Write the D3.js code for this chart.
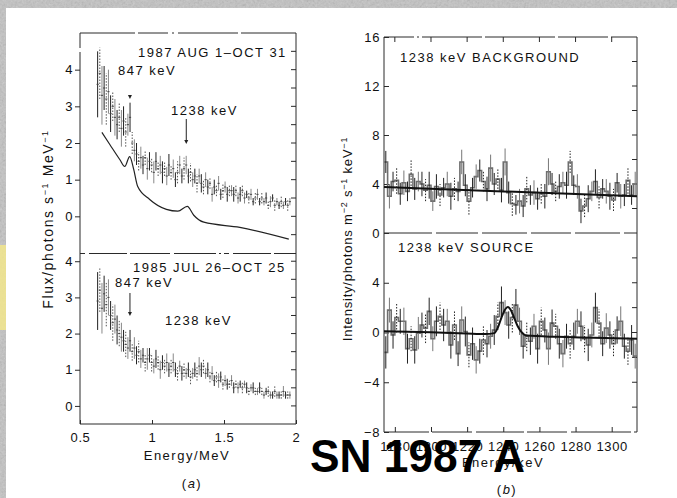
<!DOCTYPE html>
<html>
<head>
<meta charset="utf-8">
<script src="https://cdn.jsdelivr.net/npm/d3@7"></script>
<style>
  html, body { margin: 0; padding: 0; background: #fff; }
  svg { display: block; font-family: "Liberation Sans", Arial, sans-serif; }
  .tick text { font-size: 13px; letter-spacing: 0.6px; fill: #111; }
  .note { font-size: 13px; letter-spacing: 1.5px; fill: #111; }
</style>
</head>
<body>
<script>
// ---- data (a): flux spectra, 0.015 MeV bins starting at 0.615 MeV ----
const binStartA = 0.615, binWidthA = 0.015;
const flux1987 = [3.6,3.9,3.3,3.5,3.2,3.4,2.8,3.0,2.7,2.5,2.7,2.4,2.6,2.3,2.5,2.7,2.0,1.8,1.7,1.5,
  1.6,1.4,1.6,1.3,1.5,1.4,1.2,1.5,1.3,1.4,1.2,1.3,1.1,1.4,1.2,1.3,1.0,1.2,1.4,1.1,
  1.3,1.4,1.1,1.2,1.0,1.1,0.9,1.1,0.9,0.8,1.0,0.8,0.9,0.6,0.8,0.7,0.9,0.6,0.7,0.8,
  0.6,0.7,0.7,0.6,0.7,0.5,0.6,0.7,0.5,0.6,0.5,0.6,0.4,0.5,0.6,0.4,0.5,0.4,0.5,0.3,
  0.4,0.5,0.3,0.4,0.3,0.4,0.3,0.4,0.3,0.4];
const err1987 = [0.9,0.7,0.8,0.6,0.7,0.6,0.5,0.4,0.5,0.4,0.4,0.5,0.4,0.4,0.3,0.4,0.3,0.3,0.3,0.25,
  0.3,0.25,0.2,0.3,0.25,0.2,0.3,0.25,0.2,0.25,0.3,0.2,0.25,0.3,0.2,0.25,0.2,0.3,0.25,0.2,
  0.3,0.25,0.2,0.25,0.2,0.2,0.25,0.2,0.25,0.2,0.2,0.2,0.15,0.2,0.2,0.15,0.2,0.15,0.2,0.15,
  0.2,0.15,0.15,0.2,0.15,0.15,0.2,0.15,0.15,0.1,0.15,0.15,0.1,0.15,0.15,0.1,0.15,0.1,0.15,0.1,
  0.15,0.1,0.15,0.1,0.1,0.15,0.1,0.1,0.15,0.1];
const flux1985 = [2.9,3.2,2.7,3.1,2.8,3.0,2.5,2.3,2.4,2.1,2.0,1.9,1.8,1.7,1.6,1.8,1.5,1.6,1.4,1.5,
  1.3,1.4,1.2,1.3,1.4,1.2,1.1,1.3,1.2,1.0,1.2,1.1,1.2,1.0,1.1,1.2,1.0,0.9,1.1,0.9,
  1.0,0.9,1.0,0.8,0.9,1.0,0.9,1.1,1.0,1.1,0.9,1.0,0.8,0.9,0.7,0.8,0.7,0.8,0.6,0.7,
  0.6,0.6,0.7,0.5,0.6,0.5,0.6,0.5,0.6,0.5,0.4,0.5,0.5,0.4,0.4,0.5,0.4,0.3,0.4,0.4,
  0.3,0.3,0.4,0.3,0.3,0.3,0.4,0.3,0.3,0.3];
const err1985 = [0.8,0.6,0.7,0.5,0.6,0.5,0.4,0.5,0.4,0.4,0.35,0.4,0.3,0.35,0.3,0.3,0.25,0.3,0.25,0.3,
  0.25,0.2,0.25,0.3,0.2,0.25,0.2,0.25,0.2,0.25,0.2,0.2,0.25,0.2,0.2,0.25,0.2,0.2,0.15,0.2,
  0.2,0.15,0.2,0.2,0.15,0.2,0.2,0.25,0.2,0.2,0.15,0.2,0.15,0.2,0.15,0.15,0.2,0.15,0.15,0.15,
  0.15,0.1,0.15,0.15,0.1,0.15,0.1,0.15,0.1,0.15,0.1,0.1,0.15,0.1,0.1,0.15,0.1,0.1,0.1,0.15,
  0.1,0.1,0.15,0.1,0.1,0.1,0.15,0.1,0.1,0.1];
// background model curve, panel (a) top: [MeV, flux]
const modelCurve = [[0.652,2.29],[0.707,1.96],[0.776,1.55],[0.811,1.36],[0.845,1.63],[0.873,1.28],
  [0.90,0.82],[0.984,0.46],[1.10,0.19],[1.18,0.14],[1.245,0.27],[1.29,0.03],[1.36,-0.16],
  [1.61,-0.30],[1.95,-0.62]];

// ---- data (b): intensity, 2 keV bins starting at 1174 keV ----
const binStartB = 1174, binWidthB = 2;
const bgValues = [5.8,3.0,4.2,4.3,3.2,4.1,3.4,4.8,3.6,4.2,4.0,3.5,3.9,2.6,3.8,3.1,3.7,4.0,3.0,3.6,
  3.4,5.8,3.9,2.6,3.7,4.6,5.1,4.2,3.6,5.3,4.0,4.4,3.5,5.8,3.3,2.4,2.3,2.6,2.2,3.6,
  3.1,3.3,2.8,3.2,3.0,5.0,4.0,3.4,3.8,4.1,3.9,5.8,3.9,3.8,1.8,2.2,2.8,3.4,4.2,2.9,
  3.6,3.4,3.0,2.7,4.1,3.0,3.1,4.3,3.1,4.0];
const bgErrors = [0.9,1.0,0.8,1.1,0.9,1.0,0.8,1.2,0.9,0.8,1.0,0.9,1.1,0.8,1.0,0.9,0.8,1.0,1.1,0.9,
  0.8,1.0,0.9,1.1,0.8,1.0,0.9,0.8,1.0,1.1,0.9,0.8,1.0,1.1,0.9,1.0,0.8,1.0,0.9,1.1,
  0.8,1.0,0.9,0.8,1.0,1.1,0.9,0.8,1.0,0.9,1.1,0.9,0.8,1.0,1.0,0.9,1.1,0.8,1.0,0.9,
  0.8,1.0,1.1,0.9,0.8,1.0,0.9,1.1,0.8,1.0];
const srcValues = [-1.6,1.8,-0.2,1.2,0.9,0.9,-1.3,-0.5,-1.4,-0.05,0.6,0.35,1.7,-0.5,0.9,1.3,0.6,0.9,-1.0,0.6,
  -1.7,1.0,0.08,-1.8,-0.9,-2.2,-1.5,-0.6,-0.9,-0.3,0.2,1.3,2.4,1.6,0.6,1.2,2.2,0.9,-1.1,-0.3,
  -0.7,0.5,-1.3,0.9,0.2,-1.3,0.75,0.5,-0.9,-1.7,-0.3,-0.9,-0.3,0.9,0.5,-0.5,-1.0,-0.2,2.0,0.75,
  -0.9,0.35,-0.2,-0.9,0.2,0.9,-1.1,-1.5,-0.6,-1.9];
const srcErrors = [1.3,1.0,1.1,1.2,1.0,1.1,1.2,1.0,1.1,1.3,1.0,1.2,1.1,1.0,1.2,1.1,1.3,1.0,1.1,1.2,
  1.0,1.1,1.2,1.0,1.3,1.1,1.0,1.2,1.1,1.0,1.2,1.1,1.3,1.0,1.1,1.2,1.3,1.1,1.0,1.2,
  1.1,1.0,1.2,1.1,1.0,1.3,1.1,1.0,1.2,1.1,1.0,1.2,1.1,1.0,1.2,1.1,1.3,1.0,1.2,1.1,
  1.0,1.2,1.1,1.0,1.1,1.2,1.0,1.1,1.2,1.0];
const bgFit = [[1174,3.75],[1314,3.0]];
const srcFit = [[1174,0.1],[1200,0.02],[1220,-0.08],[1230,-0.12],[1235,-0.05],[1237,0.4],[1239,1.2],
  [1241,1.85],[1242.5,2.05],[1244,1.85],[1246,1.2],[1248,0.5],[1250,0.05],[1253,-0.25],
  [1270,-0.35],[1290,-0.42],[1314,-0.5]];

const ticksA = [0, 1, 2, 3, 4];
const ticksEnergyA = [0.5, 1, 1.5, 2];
const ticksBg = [0, 4, 8, 12, 16];
const ticksSrc = [-8, -4, 0, 4];
const ticksEnergyB = [1180, 1200, 1220, 1240, 1260, 1280, 1300];

const W = 677, H = 498;
const svg = d3.select("body").append("svg").attr("width", W).attr("height", H);

// scanned-paper border
const defs = svg.append("defs");
const f = defs.append("filter").attr("id", "grain").attr("x", 0).attr("y", 0).attr("width", 1).attr("height", 1);
f.append("feTurbulence").attr("type", "fractalNoise").attr("baseFrequency", 0.45).attr("numOctaves", 3).attr("seed", 7);
f.append("feColorMatrix").attr("type", "saturate").attr("values", 0);
svg.append("rect").attr("width", W).attr("height", H).attr("fill", "#c2c2c2");
svg.append("rect").attr("width", W).attr("height", H).attr("filter", "url(#grain)").attr("opacity", 0.4);
svg.append("rect").attr("x", 0).attr("y", 245).attr("width", 9).attr("height", 85).attr("fill", "#f2e68c").attr("opacity", 0.85);
svg.append("rect").attr("x", 6).attr("y", 8).attr("width", W - 6).attr("height", H - 8).attr("fill", "#fff");

// scales
const xA = d3.scaleLinear().domain([0.5, 2]).range([80, 296]);
const yTop = d3.scaleLinear().domain([-1, 5]).range([253, 33]);
const yBot = d3.scaleLinear().domain([-0.5, 4.2]).range([424, 254]);
const xB = d3.scaleLinear().domain([1174, 1314]).range([384, 637]);
const yBg = d3.scaleLinear().domain([0, 16]).range([233, 37]);
const ySrc = d3.scaleLinear().domain([-8, 8]).range([432, 233]);

const ink = "#2a2a2a";

function frameLine(x1, y1, x2, y2, dash) {
    svg.append("line").attr("x1", x1).attr("y1", y1).attr("x2", x2).attr("y2", y2)
        .attr("stroke", ink).attr("stroke-width", 1)
        .attr("stroke-dasharray", dash || null);
}

// ----- panel (a) frames -----
frameLine(80, 33, 296, 33, "55,3,30,4,2,4,60,3");
frameLine(80, 33, 80, 48);
frameLine(80, 52, 80, 424);
frameLine(296, 33, 296, 424);
frameLine(80, 253.5, 296, 253.5, "5,4,38,3,40,4,42,3,2,3");
frameLine(80, 424, 296, 424);

function leftAxis(scale, values) {
    const g = svg.append("g").attr("transform", "translate(80,0)")
        .call(d3.axisLeft(scale).tickValues(values).tickSize(5).tickPadding(2).tickFormat(d3.format("d")));
    g.select(".domain").remove();
    g.selectAll("line").attr("stroke", ink);
}
leftAxis(yTop, ticksA);
leftAxis(yBot, ticksA);

// inside ticks on the right edge of (a)
[[yTop, d3.range(-0.5, 5, 0.5)], [yBot, d3.range(0, 4.2, 0.5)]].forEach(([s, vals]) => {
    svg.append("g").selectAll("line").data(vals).join("line")
        .attr("x1", 291).attr("x2", 296).attr("y1", d => s(d)).attr("y2", d => s(d))
        .attr("stroke", ink);
});

const gxA = svg.append("g").attr("transform", "translate(0,424)")
    .call(d3.axisBottom(xA).tickValues(ticksEnergyA).tickSizeInner(-4).tickSizeOuter(0).tickPadding(9).tickFormat(d3.format("~g")));
gxA.select(".domain").remove();
gxA.selectAll("line").attr("stroke", ink);

// spectra with error bars
function spectrum(values, errs, yScale) {
    const g = svg.append("g");
    values.forEach((v, i) => {
        const e = binStartA + (i + 0.5) * binWidthA;
        const x = xA(e);
        const style = i % 3;
        g.append("line")
            .attr("x1", x).attr("x2", x)
            .attr("y1", yScale(v - errs[i])).attr("y2", yScale(v + errs[i]))
            .attr("stroke", style === 0 ? "#222" : style === 1 ? "#555" : "#888")
            .attr("stroke-width", 1)
            .attr("stroke-dasharray", style === 1 ? "1.5,1.5" : null);
        g.append("line")
            .attr("x1", xA(e - binWidthA / 2)).attr("x2", xA(e + binWidthA / 2))
            .attr("y1", yScale(v)).attr("y2", yScale(v))
            .attr("stroke", "#444").attr("stroke-width", 1);
    });
}
spectrum(flux1987, err1987, yTop);
spectrum(flux1985, err1985, yBot);

svg.append("path").datum(modelCurve)
    .attr("d", d3.line().x(d => xA(d[0])).y(d => yTop(d[1])).curve(d3.curveMonotoneX))
    .attr("fill", "none").attr("stroke", "#222").attr("stroke-width", 1.2);

// annotations (a)
svg.append("text").attr("class", "note").attr("x", 138).attr("y", 57).text("1987 AUG 1\u2013OCT 31");
svg.append("text").attr("class", "note").attr("x", 118).attr("y", 75).text("847 keV");
svg.append("path").attr("d", `M${xA(0.847) - 2},95 L${xA(0.847) + 2},95 L${xA(0.847)},99 Z`).attr("fill", "#222");
svg.append("text").attr("class", "note").attr("x", 171).attr("y", 115).text("1238 keV");
function arrow(x, y1, y2) {
    svg.append("line").attr("x1", x).attr("x2", x).attr("y1", y1).attr("y2", y2 - 3).attr("stroke", "#222");
    svg.append("path").attr("d", `M${x - 2},${y2 - 4} L${x + 2},${y2 - 4} L${x},${y2} Z`).attr("fill", "#222");
}
arrow(xA(1.238), 119, 144);
svg.append("text").attr("class", "note").attr("x", 133).attr("y", 272).text("1985 JUL 26\u2013OCT 25");
svg.append("text").attr("class", "note").attr("x", 115).attr("y", 287).text("847 keV");
arrow(xA(0.847), 293, 316);
svg.append("text").attr("class", "note").attr("x", 165).attr("y", 325).text("1238 keV");

const yLabA = svg.append("text").attr("class", "note")
    .attr("transform", "translate(53,219) rotate(-90)").attr("text-anchor", "middle")
    .style("font-size", "14px").style("letter-spacing", "1.6px");
yLabA.append("tspan").text("Flux/photons s");
yLabA.append("tspan").attr("dy", -5).style("font-size", "9px").text("\u22121");
yLabA.append("tspan").attr("dy", 5).text(" MeV");
yLabA.append("tspan").attr("dy", -5).style("font-size", "9px").text("\u22121");

svg.append("text").attr("class", "note").attr("x", 187).attr("y", 460).attr("text-anchor", "middle").text("Energy/MeV");
svg.append("text").attr("class", "note").attr("x", 192).attr("y", 488).attr("text-anchor", "middle")
    .html("(<tspan font-style='italic'>a</tspan>)");

// ----- panel (b) frames -----
frameLine(384, 37, 637, 37, "30,3,2,3,60,3,70,3,50,3");
frameLine(384, 37, 384, 432);
frameLine(637, 37, 637, 432);
frameLine(384, 233, 637, 233, "48,4,42,4,45,4,40,4,45,4");
frameLine(384, 432, 637, 432, "45,3,40,4,48,3,40,4,60,3");

[[yBg, ticksBg], [ySrc, ticksSrc]].forEach(([s, vals]) => {
    const g = svg.append("g").attr("transform", "translate(384,0)")
        .call(d3.axisLeft(s).tickValues(vals).tickSizeInner(-5).tickSizeOuter(0).tickPadding(4)
            .tickFormat(d => d < 0 ? "\u2212" + Math.abs(d) : d));
    g.select(".domain").remove();
    g.selectAll("line").attr("stroke", ink);
});
[[yBg, d3.range(2, 16, 2)], [ySrc, d3.range(-6, 8, 2)]].forEach(([s, vals]) => {
    svg.append("g").selectAll("line").data(vals).join("line")
        .attr("x1", 632).attr("x2", 637).attr("y1", d => s(d)).attr("y2", d => s(d))
        .attr("stroke", ink);
});
svg.append("g").selectAll("line").data(ticksEnergyB).join("line")
    .attr("x1", d => xB(d)).attr("x2", d => xB(d)).attr("y1", 37).attr("y2", 42).attr("stroke", ink);

const gxB = svg.append("g").attr("transform", "translate(0,432)")
    .call(d3.axisBottom(xB).tickValues(ticksEnergyB).tickSizeInner(-5).tickSizeOuter(0).tickPadding(10).tickFormat(d3.format("d")));
gxB.select(".domain").remove();
gxB.selectAll("line").attr("stroke", ink);

function histogram(values, errs, yScale) {
    const pts = [];
    values.forEach((v, i) => {
        const lo = binStartB + i * binWidthB;
        pts.push([lo, v], [lo + binWidthB, v]);
    });
    svg.append("path").datum(pts)
        .attr("d", d3.line().x(d => xB(d[0])).y(d => yScale(d[1])))
        .attr("fill", "none").attr("stroke", "#6e6e6e").attr("stroke-width", 1.6);
    svg.append("g").selectAll("line").data(values).join("line")
        .attr("x1", (d, i) => xB(binStartB + (i + 0.5) * binWidthB))
        .attr("x2", (d, i) => xB(binStartB + (i + 0.5) * binWidthB))
        .attr("y1", (d, i) => yScale(d - errs[i]))
        .attr("y2", (d, i) => yScale(d + errs[i]))
        .attr("stroke", (d, i) => i % 4 === 1 ? "#777" : "#222")
        .attr("stroke-dasharray", (d, i) => i % 4 === 3 ? "1.5,1.5" : null)
        .attr("stroke-width", 1);
}
histogram(bgValues, bgErrors, yBg);
histogram(srcValues, srcErrors, ySrc);

svg.append("path").datum(bgFit)
    .attr("d", d3.line().x(d => xB(d[0])).y(d => yBg(d[1])))
    .attr("fill", "none").attr("stroke", "#111").attr("stroke-width", 2);
svg.append("path").datum(srcFit)
    .attr("d", d3.line().x(d => xB(d[0])).y(d => ySrc(d[1])).curve(d3.curveMonotoneX))
    .attr("fill", "none").attr("stroke", "#111").attr("stroke-width", 2);

svg.append("text").attr("class", "note").attr("x", 400).attr("y", 62).text("1238 keV BACKGROUND");
svg.append("text").attr("class", "note").attr("x", 398).attr("y", 252).text("1238 keV SOURCE");

const yLabB = svg.append("text").attr("class", "note")
    .attr("transform", "translate(352,239) rotate(-90)").attr("text-anchor", "middle")
    .style("letter-spacing", "0.8px");
yLabB.append("tspan").text("Intensity/photons m");
yLabB.append("tspan").attr("dy", -5).style("font-size", "9px").text("\u22122");
yLabB.append("tspan").attr("dy", 5).text(" s");
yLabB.append("tspan").attr("dy", -5).style("font-size", "9px").text("\u22121");
yLabB.append("tspan").attr("dy", 5).text(" keV");
yLabB.append("tspan").attr("dy", -5).style("font-size", "9px").text("\u22121");

svg.append("text").attr("class", "note").attr("x", 503).attr("y", 467).attr("text-anchor", "middle").text("Energy/keV");
svg.append("text").attr("class", "note").attr("x", 507).attr("y", 494).attr("text-anchor", "middle")
    .html("(<tspan font-style='italic'>b</tspan>)");

// overlaid caption (sits over the axis text, as in the source image)
svg.append("text").attr("x", 310).attr("y", 472)
    .attr("textLength", 215).attr("lengthAdjust", "spacingAndGlyphs")
    .style("font-size", "46px").style("font-weight", "bold").style("fill", "#000")
    .text("SN 1987 A");
</script>
</body>
</html>
